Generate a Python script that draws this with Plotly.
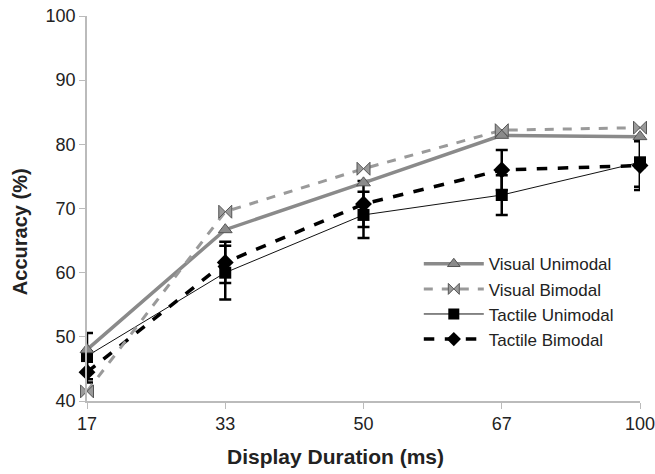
import plotly.graph_objects as go

durations = ["17", "33", "50", "67", "100"]
visual_uni = [48.0, 66.7, 74.0, 81.4, 81.2]
visual_bi = [41.5, 69.5, 76.2, 82.2, 82.6]
tactile_uni = [47.0, 60.0, 69.0, 72.1, 77.2]
tactile_bi = [44.5, 61.6, 70.7, 76.0, 76.7]
tactile_uni_err = [3.6, 4.2, 3.6, 3.1, 3.8]
tactile_bi_err = [1.6, 3.2, 3.6, 3.1, 3.8]

xpos = list(range(len(durations)))

fig = go.Figure()

fig.add_trace(go.Scatter(
    x=xpos, y=tactile_uni, name="Tactile Unimodal", mode="lines+markers",
    line=dict(color="#111111", width=1),
    marker=dict(symbol="square", size=12, color="#000000"),
    error_y=dict(type="data", array=tactile_uni_err, color="#000000", thickness=2.5, width=6),
    cliponaxis=False, showlegend=False))
fig.add_trace(go.Scatter(
    x=xpos, y=tactile_bi, name="Tactile Bimodal", mode="lines+markers",
    line=dict(color="#000000", width=3.5, dash="dash"),
    marker=dict(symbol="diamond", size=13, color="#000000"),
    error_y=dict(type="data", array=tactile_bi_err, color="#000000", thickness=2.5, width=6),
    cliponaxis=False, showlegend=False))
fig.add_trace(go.Scatter(
    x=xpos, y=visual_uni, name="Visual Unimodal", mode="lines+markers",
    line=dict(color="#8a8a8a", width=3.5),
    marker=dict(symbol="triangle-up", size=12, color="#8a8a8a",
                line=dict(color="#555555", width=1)),
    cliponaxis=False, showlegend=False))
fig.add_trace(go.Scatter(
    x=xpos, y=visual_bi, name="Visual Bimodal", mode="lines+markers",
    line=dict(color="#9a9a9a", width=3, dash="dash"),
    marker=dict(symbol="bowtie", size=13, color="#9a9a9a",
                line=dict(color="#555555", width=1)),
    cliponaxis=False, showlegend=False))

# legend entries (same styles, no error bars)
legend_specs = [
    ("Visual Unimodal", dict(color="#8a8a8a", width=3.5), dict(symbol="triangle-up", size=11, color="#8a8a8a", line=dict(color="#555555", width=1))),
    ("Visual Bimodal", dict(color="#9a9a9a", width=3, dash="dash"), dict(symbol="bowtie", size=11, color="#9a9a9a", line=dict(color="#555555", width=1))),
    ("Tactile Unimodal", dict(color="#111111", width=1), dict(symbol="square", size=11, color="#000000")),
    ("Tactile Bimodal", dict(color="#000000", width=3.5, dash="dash"), dict(symbol="diamond", size=11, color="#000000")),
]
for i, (nm, ln, mk) in enumerate(legend_specs):
    fig.add_trace(go.Scatter(x=[None], y=[None], name=nm, mode="lines+markers",
                             line=ln, marker=mk, legendrank=i + 1))

fig.update_layout(
    width=655, height=474,
    margin=dict(l=87, r=15, t=16, b=73),
    paper_bgcolor="white", plot_bgcolor="white",
    font=dict(family="Liberation Sans, Arial, sans-serif", size=18, color="#222222"),
    legend=dict(x=0.60, y=0.402, xanchor="left", yanchor="top",
                bgcolor="rgba(0,0,0,0)", font=dict(size=17, color="#222222"),
                tracegroupgap=0, itemwidth=60, traceorder="normal"),
    xaxis=dict(range=[0, 4], tickvals=xpos, ticktext=durations, automargin=False,
               ticklabeloverflow="allow",
               showline=True, linecolor="#bbbbbb", linewidth=1.5,
               ticks="outside", ticklen=6, tickcolor="#bbbbbb",
               showgrid=False, zeroline=False),
    yaxis=dict(range=[40, 100], dtick=10, tick0=40, automargin=False,
               showline=True, linecolor="#bbbbbb", linewidth=1.5,
               ticks="outside", ticklen=6, tickcolor="#bbbbbb",
               showgrid=False, zeroline=False),
    annotations=[
        dict(text="<b>Display Duration (ms)</b>", xref="paper", yref="paper",
             x=0.45, y=-0.145, xanchor="center", yanchor="middle", showarrow=False,
             font=dict(size=21, color="#222222")),
        dict(text="<b>Accuracy (%)</b>", xref="paper", yref="paper",
             x=-0.122, y=0.44, xanchor="center", yanchor="middle", showarrow=False,
             textangle=-90, font=dict(size=20, color="#222222")),
    ],
)

fig.write_html("out.html", config={"displayModeBar": False},
               post_script="document.body.style.margin='0';")
